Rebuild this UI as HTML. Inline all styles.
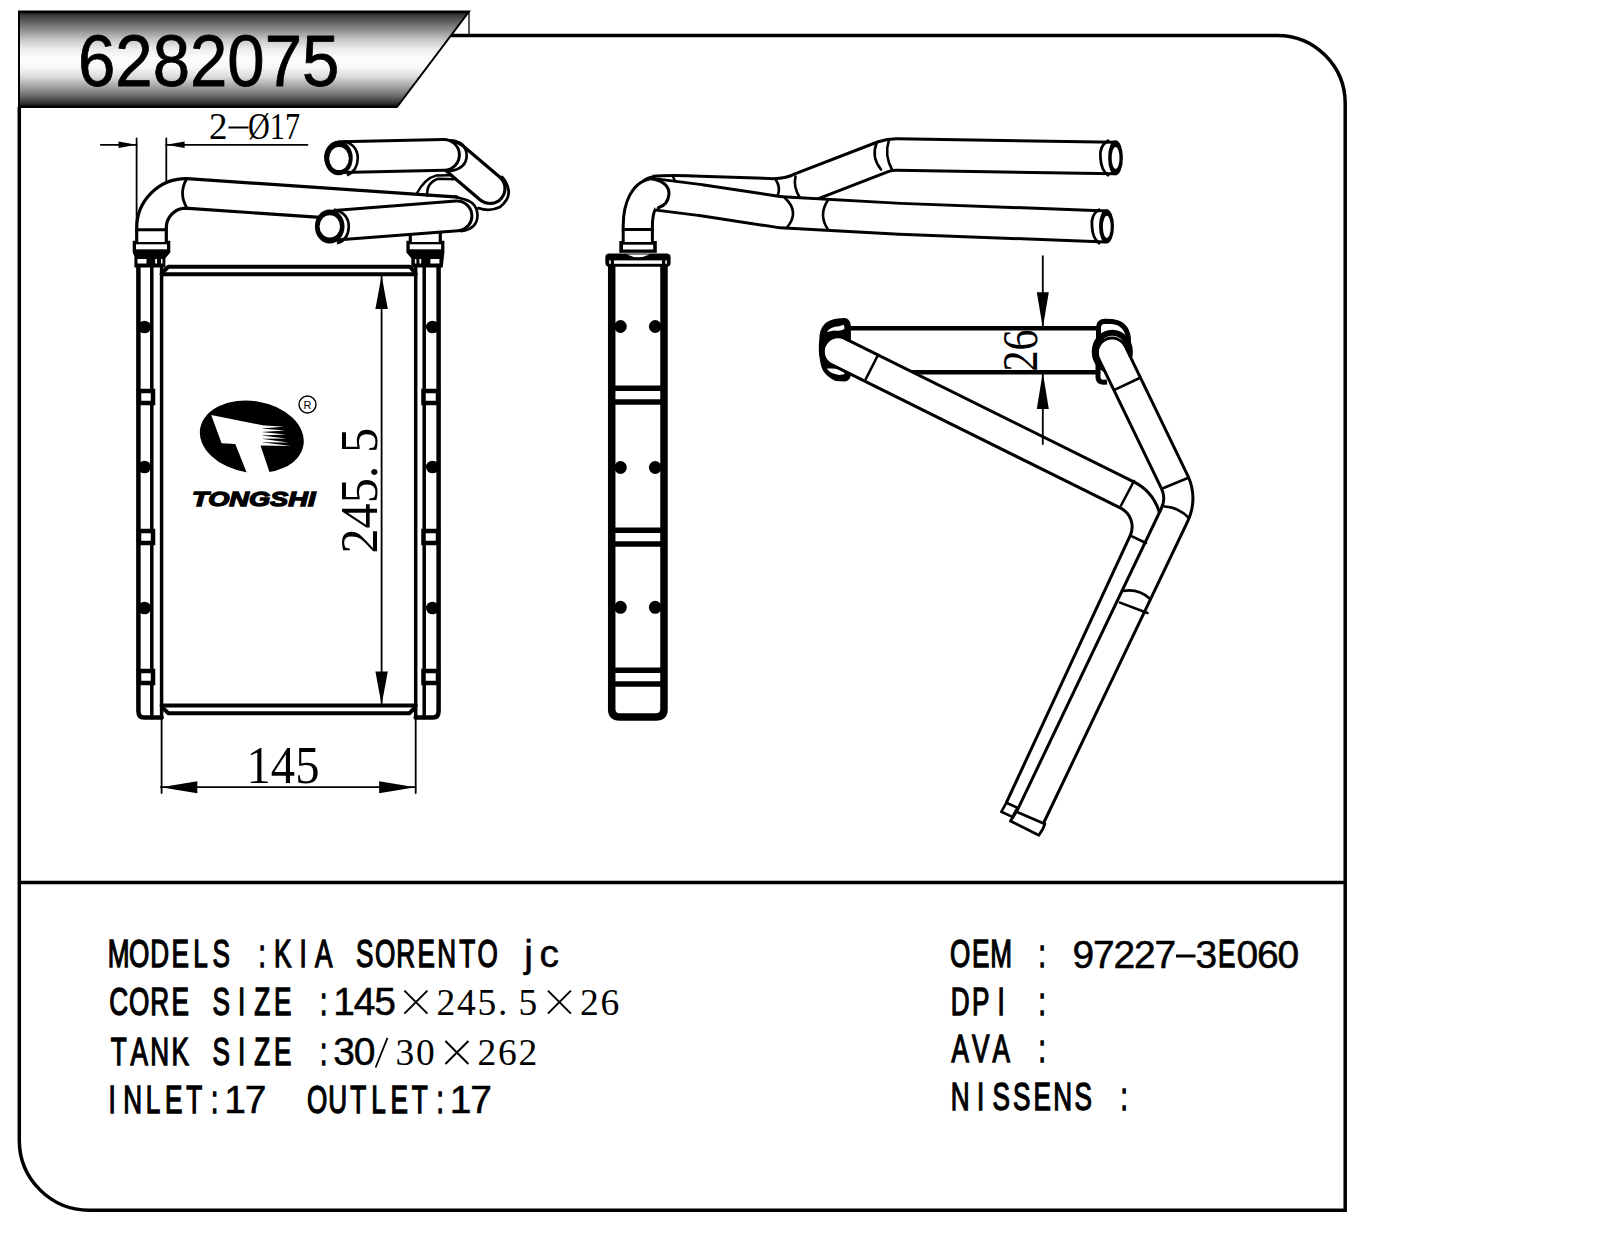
<!DOCTYPE html>
<html><head><meta charset="utf-8">
<style>
html,body{margin:0;padding:0;background:#fff;}
body{width:1598px;height:1233px;overflow:hidden;}
svg{display:block;}
.mono{font-family:"Liberation Mono",monospace;}
.serif{font-family:"Liberation Serif",serif;}
.sans{font-family:"Liberation Sans",sans-serif;}
</style></head>
<body>
<svg width="1598" height="1233" viewBox="0 0 1598 1233">
<defs>
<linearGradient id="bg" x1="0" y1="0" x2="0" y2="1">
<stop offset="0" stop-color="#000"/>
<stop offset="0.025" stop-color="#333"/>
<stop offset="0.118" stop-color="#666"/>
<stop offset="0.213" stop-color="#999"/>
<stop offset="0.306" stop-color="#ccc"/>
<stop offset="0.399" stop-color="#eee"/>
<stop offset="0.492" stop-color="#fdfdfd"/>
<stop offset="0.585" stop-color="#f8f8f8"/>
<stop offset="0.68" stop-color="#ddd"/>
<stop offset="0.773" stop-color="#aaa"/>
<stop offset="0.866" stop-color="#777"/>
<stop offset="0.959" stop-color="#333"/>
<stop offset="0.987" stop-color="#111"/>
<stop offset="1" stop-color="#000"/>
</linearGradient>
</defs>
<rect width="1598" height="1233" fill="#fff"/>
<g fill="none" stroke="#000" stroke-width="3.5">
<path d="M19.3,107 V1140 A70,70 0 0 0 89.3,1210.2 H1345.2 V104 A68,68 0 0 0 1277,35.5 H451"/>
<line x1="19.3" y1="882.6" x2="1345.2" y2="882.6"/>
</g>
<polygon points="19,11.5 469,11.5 397,107 19,107" fill="url(#bg)"/>
<polygon points="19,11.5 469,11.5 397,107 19,107" fill="none" stroke="#000" stroke-width="2"/>
<line x1="469" y1="11.5" x2="469" y2="34" stroke="#000" stroke-width="1.3"/><line x1="19" y1="12.2" x2="469" y2="12.2" stroke="#000" stroke-width="2.2"/>
<text x="78" y="86" class="sans" font-size="73" stroke="#000" stroke-width="0.8" transform="translate(78,0) scale(0.92,1) translate(-78,0)">6282075</text>

<path d="M100.8,144.8 H136.6 M166.3,144.8 H307.5" fill="none" stroke="#000" stroke-width="1.80" stroke-linecap="round" stroke-linejoin="round" />
<polygon points="136.6,144.8 118.5,141.6 118.5,148.0" fill="#000"/>
<polygon points="166.3,144.8 184.6,148.0 184.6,141.6" fill="#000"/>
<path d="M136.6,138.5 V225 M166.3,138.5 V225" fill="none" stroke="#000" stroke-width="1.80" stroke-linecap="round" stroke-linejoin="round" />
<text class="serif" font-size="37" x="209" y="139.3">2</text><rect x="228.5" y="126.5" width="20" height="2" fill="#000"/><text class="serif" font-size="37" x="248" y="139.3" textLength="52" lengthAdjust="spacingAndGlyphs">Ø17</text>
<path d="M161.6,268 V718" fill="none" stroke="#000" stroke-width="3.50" stroke-linecap="round" stroke-linejoin="round" />
<path d="M415.7,268 V718" fill="none" stroke="#000" stroke-width="3.50" stroke-linecap="round" stroke-linejoin="round" />
<path d="M161.6,718 V793 M415.7,718 V793" fill="none" stroke="#000" stroke-width="1.80" stroke-linecap="round" stroke-linejoin="round" />
<path d="M164,271 L168.3,266.8 H410 L413.5,271" fill="none" stroke="#000" stroke-width="4.00" stroke-linecap="round" stroke-linejoin="round" />
<path d="M161.6,274.3 H415.7" fill="none" stroke="#000" stroke-width="4.00" stroke-linecap="round" stroke-linejoin="round" />
<path d="M161.6,705.4 H415.7" fill="none" stroke="#000" stroke-width="4.00" stroke-linecap="round" stroke-linejoin="round" />
<path d="M164,709 L168.4,713.3 H409.3 L413.5,709" fill="none" stroke="#000" stroke-width="4.00" stroke-linecap="round" stroke-linejoin="round" />
<path d="M138.4,267 V711 Q138.4,717.5 144,717.5 H161.6" fill="none" stroke="#000" stroke-width="4.50" stroke-linecap="round" stroke-linejoin="round" />
<path d="M151.8,267 V717.5" fill="none" stroke="#000" stroke-width="3.50" stroke-linecap="round" stroke-linejoin="round" />
<path d="M438.6,267 V711 Q438.6,717.5 433,717.5 H415.7" fill="none" stroke="#000" stroke-width="4.50" stroke-linecap="round" stroke-linejoin="round" />
<path d="M424.2,267 V717.5" fill="none" stroke="#000" stroke-width="3.50" stroke-linecap="round" stroke-linejoin="round" />
<rect x="139" y="391.0" width="14" height="12" fill="#fff" stroke="#000" stroke-width="4.5"/>
<rect x="423.5" y="391.0" width="14.5" height="12" fill="#fff" stroke="#000" stroke-width="4.5"/>
<rect x="139" y="531.0" width="14" height="12" fill="#fff" stroke="#000" stroke-width="4.5"/>
<rect x="423.5" y="531.0" width="14.5" height="12" fill="#fff" stroke="#000" stroke-width="4.5"/>
<rect x="139" y="671.0" width="14" height="12" fill="#fff" stroke="#000" stroke-width="4.5"/>
<rect x="423.5" y="671.0" width="14.5" height="12" fill="#fff" stroke="#000" stroke-width="4.5"/>
<ellipse cx="144.5" cy="327.0" rx="6.5" ry="6.3" fill="#000"/>
<ellipse cx="432.5" cy="327.0" rx="6.5" ry="6.3" fill="#000"/>
<ellipse cx="144.5" cy="467.0" rx="6.5" ry="6.3" fill="#000"/>
<ellipse cx="432.5" cy="467.0" rx="6.5" ry="6.3" fill="#000"/>
<ellipse cx="144.5" cy="608.0" rx="6.5" ry="6.3" fill="#000"/>
<ellipse cx="432.5" cy="608.0" rx="6.5" ry="6.3" fill="#000"/>
<polygon points="132.7,240.8 170.3,240.8 170.3,252.5 165.4,258.3 165.4,267.5 134.4,267.5 134.4,256.3 132.7,252.6" fill="#000"/>
<rect x="136.0" y="244.3" width="31.0" height="5" fill="#fff"/>
<rect x="137.5" y="259" width="9" height="4.5" fill="#fff"/>
<rect x="155.2" y="259" width="1.8" height="4.5" fill="#fff"/>
<rect x="161.0" y="259" width="1.5" height="4.5" fill="#fff"/>
<polygon points="406.4,240.8 444.4,240.8 444.4,252.5 442.7,267.5 411.3,267.5 411.3,258.3 406.4,252.6" fill="#000"/>
<rect x="409.7" y="244.3" width="31.4" height="5" fill="#fff"/>
<rect x="430.4" y="259" width="9" height="4.5" fill="#fff"/>
<rect x="419.4" y="259" width="1.8" height="4.5" fill="#fff"/>
<rect x="414.9" y="259" width="1.5" height="4.5" fill="#fff"/>
<path d="M151.5,242 V228 A34.5,34.5 0 0 1 186,193.4 L461,212.1" fill="none" stroke="#000" stroke-width="32.80" stroke-linecap="butt" stroke-linejoin="round"/><path d="M151.5,242 V228 A34.5,34.5 0 0 1 186,193.4 L461,212.1" fill="none" stroke="#fff" stroke-width="26.40" stroke-linecap="butt" stroke-linejoin="round"/>
<path d="M136.6,229.7 H166.3" fill="none" stroke="#000" stroke-width="3.00" stroke-linecap="round" stroke-linejoin="round" />
<path d="M187,178.6 Q178,193 187,208.2" fill="none" stroke="#000" stroke-width="2.80" stroke-linecap="round" stroke-linejoin="round" />
<path d="M425.3,242 V226" fill="none" stroke="#000" stroke-width="33.20" stroke-linecap="butt" stroke-linejoin="round"/><path d="M425.3,242 V226" fill="none" stroke="#fff" stroke-width="26.80" stroke-linecap="butt" stroke-linejoin="round"/>
<path d="M416.5,194 Q425,178 436,175.6 L452,175.2" fill="none" stroke="#000" stroke-width="2.50" stroke-linecap="round" stroke-linejoin="round" />
<path d="M427.3,195.8 Q426,183 438.2,178.8 L454,179.2" fill="none" stroke="#000" stroke-width="2.50" stroke-linecap="round" stroke-linejoin="round" />
<path d="M452.8,156.9 L490,188.5" fill="none" stroke="#000" stroke-width="33.20" stroke-linecap="round" stroke-linejoin="round"/><path d="M452.8,156.9 L490,188.5" fill="none" stroke="#fff" stroke-width="26.80" stroke-linecap="round" stroke-linejoin="round"/>
<path d="M478.4,208.2 Q490,212 500,207 Q510,199 508.5,190 Q507,182 502,177" fill="none" stroke="#000" stroke-width="2.80" stroke-linecap="round" stroke-linejoin="round" />
<path d="M341,157.2 L444,154.9" fill="none" stroke="#000" stroke-width="33.80" stroke-linecap="round" stroke-linejoin="round"/><path d="M341,157.2 L444,154.9" fill="none" stroke="#fff" stroke-width="27.80" stroke-linecap="round" stroke-linejoin="round"/>
<path d="M449,171.2 Q466.7,169 466.7,155 Q466,142 451,140.4" fill="none" stroke="#000" stroke-width="2.60" stroke-linecap="round" stroke-linejoin="round" />
<ellipse cx="338.6" cy="158" rx="14.1" ry="17.3" fill="#000"/>
<ellipse cx="339" cy="158.5" rx="9.8" ry="11.6" fill="#fff"/>
<path d="M344,141.3 Q357.5,145 357.8,158 Q357.5,171 347,175.2" fill="none" stroke="#000" stroke-width="2.6"/>
<path d="M338.5,225 L457,215.9" fill="none" stroke="#000" stroke-width="32.80" stroke-linecap="round" stroke-linejoin="round"/><path d="M338.5,225 L457,215.9" fill="none" stroke="#fff" stroke-width="26.80" stroke-linecap="round" stroke-linejoin="round"/>
<rect x="458" y="194" width="6" height="5.2" fill="#fff"/>
<path d="M461,231.2 Q477.5,229 477.5,215 Q477,203 465,199.6 L455,196.8" fill="none" stroke="#000" stroke-width="2.60" stroke-linecap="round" stroke-linejoin="round" />
<ellipse cx="329.7" cy="226.4" rx="14.8" ry="17" fill="#000"/>
<ellipse cx="329.8" cy="226.4" rx="10.2" ry="11.2" fill="#fff"/>
<path d="M334,209.5 Q348.5,213 348.8,226.4 Q348.5,240 337,243.3" fill="none" stroke="#000" stroke-width="2.6"/>
<path d="M160.9,787.2 H415.5" fill="none" stroke="#000" stroke-width="1.80" stroke-linecap="round" stroke-linejoin="round" />
<polygon points="160.9,787.2 197.3,793.2 197.3,781.2" fill="#000"/>
<polygon points="415.5,787.2 379.1,781.2 379.1,793.2" fill="#000"/>
<text class="serif" font-size="52.5" x="246.5" y="782.5" textLength="73" lengthAdjust="spacingAndGlyphs">145</text>
<path d="M381.6,276 V705" fill="none" stroke="#000" stroke-width="1.80" stroke-linecap="round" stroke-linejoin="round" />
<polygon points="381.6,275.6 375.4,309.0 387.8,309.0" fill="#000"/>
<polygon points="381.6,705.0 387.8,671.6 375.4,671.6" fill="#000"/>
<text class="serif" font-size="53" x="0" y="0" transform="translate(377,553.5) rotate(-90)" textLength="125.5" lengthAdjust="spacingAndGlyphs">245. 5</text>
<ellipse cx="251.8" cy="436.8" rx="52.3" ry="35.8" transform="rotate(9 251.8 436.8)" fill="#000"/>
<polygon points="211.2,415.1 262.5,425.2 262.5,445.4 260.5,445.4 269.8,473 246.8,473 235.3,443.9 221.6,443.2" fill="#fff"/>
<polygon points="261.5,425.20 283.5,426.70 261.5,428.60" fill="#fff"/>
<polygon points="261.5,428.60 284.9,430.60 261.5,432.00" fill="#fff"/>
<polygon points="261.5,432.00 285.6,434.60 261.5,435.40" fill="#fff"/>
<polygon points="261.5,435.40 286.4,438.60 261.5,438.80" fill="#fff"/>
<polygon points="261.5,438.80 288.5,442.40 261.5,442.20" fill="#fff"/>
<polygon points="261.5,442.20 290.7,446.10 261.5,445.60" fill="#fff"/>
<text class="sans" font-size="21" font-weight="bold" font-style="italic" x="192" y="506.2" textLength="123.5" lengthAdjust="spacingAndGlyphs" stroke="#000" stroke-width="1.3">TONGSHI</text>
<circle cx="307.5" cy="404.5" r="8.5" fill="none" stroke="#000" stroke-width="1.4"/>
<text class="sans" font-size="11" x="303.6" y="408.5">R</text>
<path d="M611.7,266 V709 Q611.7,717 619.7,717 H656 Q664,717 664,709 V266" fill="none" stroke="#000" stroke-width="7.50" stroke-linecap="round" stroke-linejoin="round" />
<path d="M615,388.2 H660.5 M615,402.0 H660.5" fill="none" stroke="#000" stroke-width="5.50" stroke-linecap="round" stroke-linejoin="round" />
<path d="M615,530.2 H660.5 M615,544.0 H660.5" fill="none" stroke="#000" stroke-width="5.50" stroke-linecap="round" stroke-linejoin="round" />
<path d="M615,670.2 H660.5 M615,684.0 H660.5" fill="none" stroke="#000" stroke-width="5.50" stroke-linecap="round" stroke-linejoin="round" />
<ellipse cx="620.5" cy="326.5" rx="6.3" ry="6.5" fill="#000"/>
<ellipse cx="655.2" cy="326.5" rx="6.3" ry="6.5" fill="#000"/>
<ellipse cx="620.5" cy="467.5" rx="6.3" ry="6.5" fill="#000"/>
<ellipse cx="655.2" cy="467.5" rx="6.3" ry="6.5" fill="#000"/>
<ellipse cx="620.5" cy="607.3" rx="6.3" ry="6.5" fill="#000"/>
<ellipse cx="655.2" cy="607.3" rx="6.3" ry="6.5" fill="#000"/>
<rect x="605.3" y="253.4" width="65.3" height="13.4" rx="4" fill="#000"/>
<rect x="614" y="260.4" width="48" height="3.4" fill="#fff"/>
<rect x="609.2" y="260.4" width="1.6" height="3.4" fill="#fff"/>
<rect x="665.3" y="260.4" width="1.6" height="3.4" fill="#fff"/>
<path d="M627,254.5 Q638,260 649.5,254.5 Z" fill="#fff"/>
<rect x="619.3" y="241" width="37.5" height="11.8" fill="#000"/>
<rect x="623" y="244.7" width="30.2" height="4.8" fill="#fff"/>
<path d="M654,192 L655,192" fill="none" stroke="#000" stroke-width="33.20" stroke-linecap="round" stroke-linejoin="round"/><path d="M654,192 L655,192" fill="none" stroke="#fff" stroke-width="27.20" stroke-linecap="round" stroke-linejoin="round"/>
<path d="M654,192 Q670,190.5 700,191.9 L773.8,194.4 Q790,194 800.5,188.6 L883.2,156.7 Q890,154.5 897,154.6 L1115,158" fill="none" stroke="#000" stroke-width="34.50" stroke-linecap="butt" stroke-linejoin="round"/><path d="M654,192 Q670,190.5 700,191.9 L773.8,194.4 Q790,194 800.5,188.6 L883.2,156.7 Q890,154.5 897,154.6 L1115,158" fill="none" stroke="#fff" stroke-width="28.50" stroke-linecap="butt" stroke-linejoin="round"/>
<path d="M673,177 Q675.5,179.5 673.5,182" fill="none" stroke="#000" stroke-width="2.40" stroke-linecap="round" stroke-linejoin="round" />
<path d="M776,180 Q781,188 777.5,196" fill="none" stroke="#000" stroke-width="2.60" stroke-linecap="round" stroke-linejoin="round" />
<path d="M795.5,176.5 Q793,187 800,198" fill="none" stroke="#000" stroke-width="2.60" stroke-linecap="round" stroke-linejoin="round" />
<path d="M876.5,143.5 Q871,157 881,169.5" fill="none" stroke="#000" stroke-width="2.60" stroke-linecap="round" stroke-linejoin="round" />
<path d="M889,140 Q884,155 892,169.5" fill="none" stroke="#000" stroke-width="2.60" stroke-linecap="round" stroke-linejoin="round" />
<path d="M652,194 L700,200 L781,212.3 L900,218.85 L1106.5,226.4" fill="none" stroke="#000" stroke-width="34.00" stroke-linecap="butt" stroke-linejoin="round"/><path d="M652,194 L700,200 L781,212.3 L900,218.85 L1106.5,226.4" fill="none" stroke="#fff" stroke-width="28.00" stroke-linecap="butt" stroke-linejoin="round"/>
<path d="M785,198 Q800,212 787,227.5" fill="none" stroke="#000" stroke-width="2.60" stroke-linecap="round" stroke-linejoin="round" />
<path d="M828,200 Q818,215 828,229.5" fill="none" stroke="#000" stroke-width="2.60" stroke-linecap="round" stroke-linejoin="round" />
<path d="M637.8,242 V226 C637.8,206 645,193 655,193" fill="none" stroke="#000" stroke-width="32.20" stroke-linecap="butt" stroke-linejoin="round"/><path d="M637.8,242 V226 C637.8,206 645,193 655,193" fill="none" stroke="#fff" stroke-width="26.20" stroke-linecap="butt" stroke-linejoin="round"/>
<path d="M623.2,229.6 H652.4" fill="none" stroke="#000" stroke-width="3.00" stroke-linecap="round" stroke-linejoin="round" />
<path d="M649.5,178.5 Q669,181 669,194 Q668,205 658.3,207.7" fill="#fff" stroke="#000" stroke-width="3" stroke-linecap="round"/>
<path d="M1108,140.8 Q1099,146 1100.5,158 Q1101,170 1108,175.2" fill="none" stroke="#000" stroke-width="2.80" stroke-linecap="round" stroke-linejoin="round" />
<ellipse cx="1115.5" cy="157.8" rx="7.4" ry="17.6" fill="#000"/>
<ellipse cx="1115.6" cy="158" rx="3.9" ry="11" fill="#fff"/>
<path d="M1099,209.6 Q1090.5,215 1092,226.5 Q1092.5,238 1099,243.2" fill="none" stroke="#000" stroke-width="2.80" stroke-linecap="round" stroke-linejoin="round" />
<ellipse cx="1106.5" cy="226.4" rx="7.5" ry="17.1" fill="#000"/>
<ellipse cx="1106.8" cy="226.9" rx="3.9" ry="11.2" fill="#fff"/>
<path d="M849,328.2 H1098" fill="none" stroke="#000" stroke-width="4.50" stroke-linecap="round" stroke-linejoin="round" />
<path d="M849,372.3 H1098" fill="none" stroke="#000" stroke-width="4.50" stroke-linecap="round" stroke-linejoin="round" />
<text class="serif" font-size="51.5" x="0" y="0" transform="translate(1036.5,371.5) rotate(-90)" textLength="42" lengthAdjust="spacingAndGlyphs">26</text>
<path d="M850.9,326.2 Q850,318.5 845,318.1 L837.7,318.5 Q829,319.5 824.6,324 Q819.5,329 819.2,340 L818.8,346 Q818.8,356 819.5,357 Q820.5,366 823.1,370.7 Q827,377 835.5,380.9 L845,381.6 Q850.5,380.5 850.9,374.3 Z" fill="#000"/>
<path d="M826.8,332 Q830,326.9 839.2,326.2 L843.6,324.7 Q845,327 844.3,329.1 Q841,331.5 834.1,330.5 Z" fill="#fff"/>
<path d="M826.8,368.5 Q830,373.6 839.2,375 L844.3,374.3 Q845,372 843.6,370 Q840,369 831.9,368.5 Z" fill="#fff"/>
<path d="M1098.5,345 V327 Q1099,321.5 1105,321.3 L1112,321.5 Q1126,323 1128.3,337 L1128.8,350" fill="#fff" stroke="#000" stroke-width="5" stroke-linejoin="round"/>
<path d="M1098,360 V377.5 Q1098.5,382.5 1104,382.3 L1107,382" fill="none" stroke="#000" stroke-width="5" stroke-linejoin="round"/>
<ellipse cx="1112.3" cy="351.8" rx="17.6" ry="19" fill="#fff" stroke="#000" stroke-width="6"/>
<circle cx="838" cy="351.5" r="14.7" fill="#fff" stroke="#000" stroke-width="3"/>
<circle cx="1112" cy="352.5" r="14.6" fill="#fff" stroke="#000" stroke-width="3"/>
<path d="M838,351.5 L1126.8,494.8 A35.6,35.6 0 0 1 1143.5,541.8 L1019.7,808.9" fill="none" stroke="#000" stroke-width="32.40" stroke-linecap="butt" stroke-linejoin="round"/><path d="M838,351.5 L1126.8,494.8 A35.6,35.6 0 0 1 1143.5,541.8 L1019.7,808.9" fill="none" stroke="#fff" stroke-width="26.40" stroke-linecap="butt" stroke-linejoin="round"/>
<path d="M1112,352.5 L1174.7,482.2 A38,38 0 0 1 1174.5,514.9 L1029.7,818.2" fill="none" stroke="#000" stroke-width="32.30" stroke-linecap="butt" stroke-linejoin="round"/><path d="M1112,352.5 L1174.7,482.2 A38,38 0 0 1 1174.5,514.9 L1029.7,818.2" fill="none" stroke="#fff" stroke-width="26.30" stroke-linecap="butt" stroke-linejoin="round"/>
<circle cx="838" cy="351.5" r="12.8" fill="#fff"/><circle cx="1112" cy="352.5" r="12.8" fill="#fff"/>
<path d="M865.8,379 L878,355" fill="none" stroke="#000" stroke-width="2.60" stroke-linecap="round" stroke-linejoin="round" />
<path d="M1121,505.5 L1134,481" fill="none" stroke="#000" stroke-width="2.60" stroke-linecap="round" stroke-linejoin="round" />
<path d="M1115,389.6 L1139.7,378" fill="none" stroke="#000" stroke-width="2.60" stroke-linecap="round" stroke-linejoin="round" />
<path d="M1163,488.3 L1187.8,478" fill="none" stroke="#000" stroke-width="2.60" stroke-linecap="round" stroke-linejoin="round" />
<path d="M1164.4,506.5 Q1178,507 1189,518" fill="none" stroke="#000" stroke-width="2.60" stroke-linecap="round" stroke-linejoin="round" />
<path d="M1132,536.4 L1146,543" fill="none" stroke="#000" stroke-width="2.60" stroke-linecap="round" stroke-linejoin="round" />
<path d="M1122.9,591 Q1138,588 1150,598.7" fill="none" stroke="#000" stroke-width="2.60" stroke-linecap="round" stroke-linejoin="round" />
<path d="M1120,602.6 L1147.5,613" fill="none" stroke="#000" stroke-width="2.60" stroke-linecap="round" stroke-linejoin="round" />
<path d="M1042.8,256.2 V326 M1042.8,374 V444" fill="none" stroke="#000" stroke-width="1.80" stroke-linecap="round" stroke-linejoin="round" />
<polygon points="1042.8,328.0 1048.8,292.3 1036.8,292.3" fill="#000"/>
<polygon points="1042.8,372.3 1036.8,409.0 1048.8,409.0" fill="#000"/>
<polygon points="1006.4,802.7 1001.3,811.8 1012.4,816.9 1017.5,807.8" fill="#fff" stroke="#000" stroke-width="2.6" stroke-linejoin="round"/>
<polygon points="1016.5,811.8 1012.4,818 1010.4,821 1038.8,835.2 1042.8,829 1044.9,824" fill="#fff" stroke="#000" stroke-width="2.8" stroke-linejoin="round"/><text class="sans" font-size="39" stroke="#000" stroke-width="1.4" text-anchor="middle" transform="scale(0.67,1)" x="177.09 207.69 238.28 268.88 299.48 330.07 391.27 421.87 452.46 483.06 544.25 574.85 605.45 636.04 666.64 697.24 727.84" y="967">MODELS:KIASORENTO</text>
<text class="sans" font-size="39" stroke="#000" stroke-width="0.5" text-anchor="middle" x="528.65 549.15" y="967">jc</text>
<text class="sans" font-size="39" stroke="#000" stroke-width="1.4" text-anchor="middle" transform="scale(0.67,1)" x="177.09 207.69 238.28 268.88 330.07 360.67 391.27 421.87 483.06" y="1014.6">CORESIZE:</text>
<text class="sans" font-size="39" stroke="#000" stroke-width="0.5" text-anchor="middle" x="344.15 364.65 385.15" y="1014.6">145</text>
<text class="sans" font-size="39" stroke="#000" stroke-width="1.4" text-anchor="middle" transform="scale(0.67,1)" x="177.09 207.69 238.28 268.88 330.07 360.67 391.27 421.87 483.06" y="1065">TANKSIZE:</text>
<text class="sans" font-size="39" stroke="#000" stroke-width="0.5" text-anchor="middle" x="344.15 364.65" y="1065">30</text>
<text class="sans" font-size="39" stroke="#000" stroke-width="1.4" text-anchor="middle" transform="scale(0.67,1)" x="167.39 197.99 228.58 259.18 289.78 320.37 473.36 503.96 534.55 565.15 595.75 626.34 656.94" y="1112.6">INLET:OUTLET:</text>
<text class="sans" font-size="39" stroke="#000" stroke-width="0.5" text-anchor="middle" x="235.15 255.65 460.65 481.15" y="1112.6">1717</text>
<rect x="1176.0" y="954.5" width="19.5" height="3" fill="#000"/>
<text class="sans" font-size="39" stroke="#000" stroke-width="1.4" text-anchor="middle" transform="scale(0.67,1)" x="1433.21 1463.81 1494.40 1555.60 1830.97" y="967.5">OEM:E</text>
<text class="sans" font-size="39" stroke="#000" stroke-width="0.5" text-anchor="middle" x="1083.25 1103.75 1124.25 1144.75 1165.25 1206.25 1247.25 1267.75 1288.25" y="967.5">972273060</text>
<text class="sans" font-size="39" stroke="#000" stroke-width="1.4" text-anchor="middle" transform="scale(0.67,1)" x="1433.21 1463.81 1494.40 1555.60" y="1015">DPI:</text>
<text class="sans" font-size="39" stroke="#000" stroke-width="1.4" text-anchor="middle" transform="scale(0.67,1)" x="1433.21 1463.81 1494.40 1555.60" y="1062.5">AVA:</text>
<text class="sans" font-size="39" stroke="#000" stroke-width="1.4" text-anchor="middle" transform="scale(0.67,1)" x="1433.21 1463.81 1494.40 1525.00 1555.60 1586.19 1616.79 1677.99" y="1110">NISSENS:</text>
<path d="M404.4,990.6 L427.4,1013.6 M404.4,1013.6 L427.4,990.6" stroke="#000" stroke-width="2" fill="none"/>
<text class="serif" font-size="37.5" x="436.4 456.9 477.4 497.9 518.4" y="1014.6">245.5</text>
<path d="M547.9,990.6 L570.9,1013.6 M547.9,1013.6 L570.9,990.6" stroke="#000" stroke-width="2" fill="none"/>
<text class="serif" font-size="37.5" x="579.9 600.4" y="1014.6">26</text>
<path d="M375.6,1067.5 L387.5,1037.8" stroke="#000" stroke-width="1.8" fill="none"/>
<text class="serif" font-size="37.5" x="395.4 415.9" y="1065">30</text>
<path d="M445.4,1041.0 L468.4,1064.0 M445.4,1064.0 L468.4,1041.0" stroke="#000" stroke-width="2" fill="none"/>
<text class="serif" font-size="37.5" x="477.4 497.9 518.4" y="1065">262</text>
</svg>
</body></html>
